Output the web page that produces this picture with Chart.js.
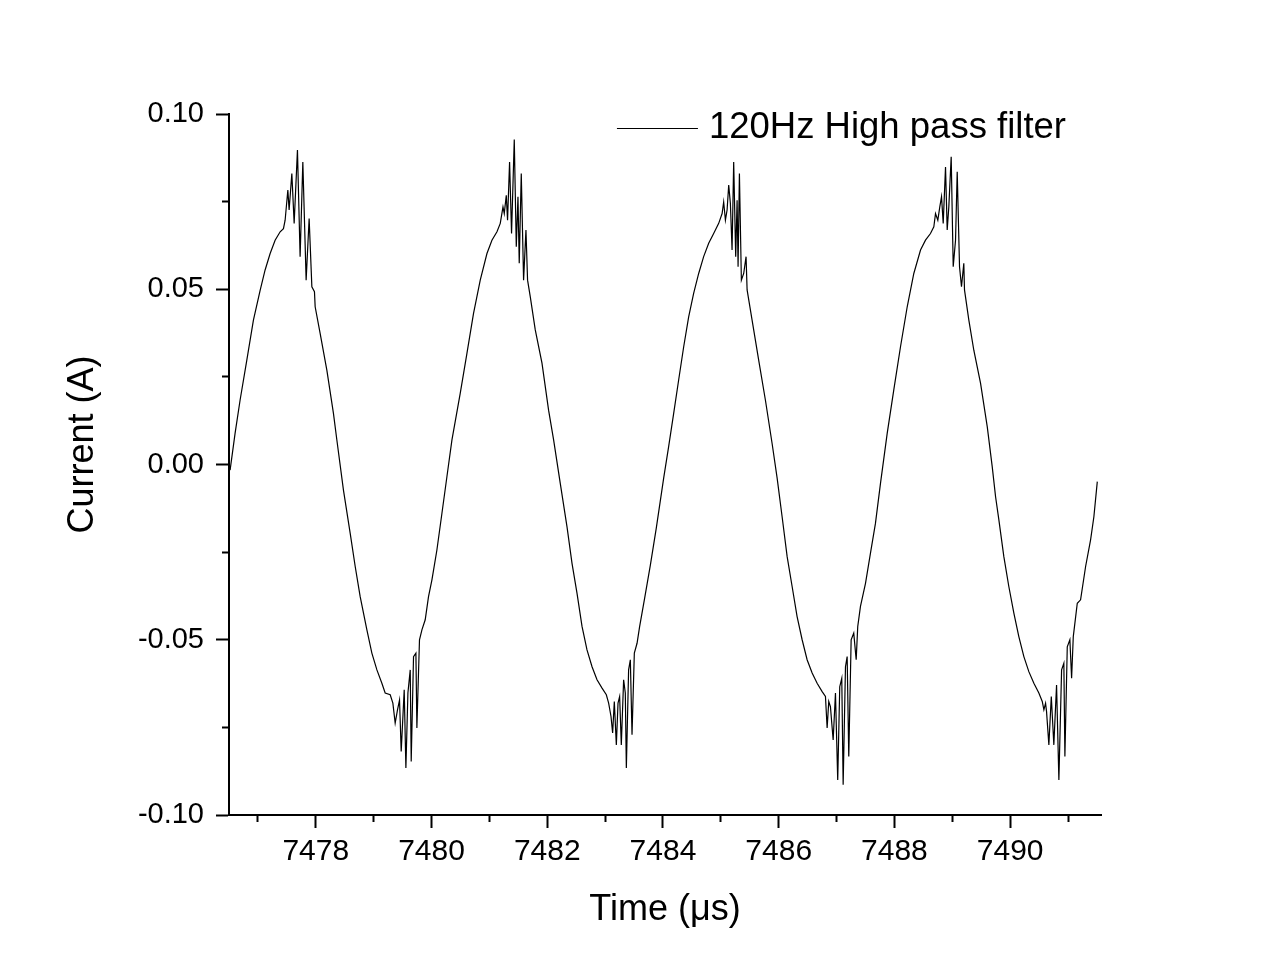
<!DOCTYPE html>
<html>
<head>
<meta charset="utf-8">
<title>120Hz High pass filter</title>
<script src="https://cdn.jsdelivr.net/npm/chart.js@4.4.1/dist/chart.umd.min.js"></script>
<style>
  html, body { margin: 0; padding: 0; background: #fff; }
  #mycanvas { display: block; }
</style>
</head>
<body>
<canvas id="mycanvas" width="1280" height="979"></canvas>
<script>
// time in microseconds
var timeUs = [
  7476.519, 7476.605, 7476.692, 7476.808, 7476.922, 7477.038, 7477.124, 7477.211, 7477.297, 7477.384,
  7477.441, 7477.470, 7477.517, 7477.539, 7477.586, 7477.626, 7477.683, 7477.729, 7477.776, 7477.833,
  7477.885, 7477.932, 7477.977, 7477.989, 7478.075, 7478.191, 7478.305, 7478.364, 7478.478, 7478.594,
  7478.681, 7478.767, 7478.883, 7478.969, 7479.056, 7479.142, 7479.199, 7479.286, 7479.332, 7479.372,
  7479.412, 7479.447, 7479.476, 7479.528, 7479.557, 7479.592, 7479.632, 7479.649, 7479.689, 7479.730,
  7479.747, 7479.792, 7479.834, 7479.891, 7479.948, 7480.007, 7480.093, 7480.180, 7480.266, 7480.353,
  7480.496, 7480.612, 7480.726, 7480.842, 7480.958, 7481.044, 7481.131, 7481.188, 7481.235, 7481.257,
  7481.292, 7481.314, 7481.349, 7481.383, 7481.430, 7481.465, 7481.494, 7481.516, 7481.551, 7481.591,
  7481.632, 7481.660, 7481.707, 7481.793, 7481.909, 7482.023, 7482.110, 7482.225, 7482.341, 7482.428,
  7482.514, 7482.601, 7482.687, 7482.774, 7482.860, 7482.947, 7483.021, 7483.061, 7483.102, 7483.130,
  7483.159, 7483.194, 7483.223, 7483.251, 7483.280, 7483.320, 7483.349, 7483.367, 7483.406, 7483.436,
  7483.465, 7483.505, 7483.552, 7483.597, 7483.678, 7483.782, 7483.885, 7484.012,
  7484.098, 7484.185, 7484.271, 7484.358, 7484.444, 7484.530, 7484.617, 7484.703, 7484.790, 7484.876,
  7484.963, 7485.022, 7485.049, 7485.079, 7485.108, 7485.136, 7485.165, 7485.194, 7485.222, 7485.257,
  7485.281, 7485.298, 7485.321, 7485.355, 7485.395, 7485.436, 7485.454, 7485.540, 7485.654, 7485.770,
  7485.886, 7485.973, 7486.059, 7486.146, 7486.232, 7486.318, 7486.405, 7486.491, 7486.578, 7486.664,
  7486.751, 7486.808, 7486.837, 7486.865, 7486.894, 7486.941, 7486.981, 7487.020, 7487.055, 7487.090,
  7487.114, 7487.154, 7487.183, 7487.211, 7487.252, 7487.297, 7487.339, 7487.366, 7487.413, 7487.500,
  7487.586, 7487.672, 7487.759,
  7487.875, 7487.989, 7488.105, 7488.221, 7488.335, 7488.451, 7488.537, 7488.623, 7488.681, 7488.710,
  7488.750, 7488.784, 7488.814, 7488.843, 7488.883, 7488.912, 7488.940, 7488.981, 7489.016, 7489.056,
  7489.085, 7489.125, 7489.159, 7489.199, 7489.211, 7489.286, 7489.372, 7489.488, 7489.604, 7489.690,
  7489.748, 7489.805, 7489.891, 7489.977, 7490.064, 7490.150, 7490.237, 7490.323, 7490.410, 7490.496,
  7490.555, 7490.583, 7490.612, 7490.629, 7490.669, 7490.711, 7490.755, 7490.802, 7490.842, 7490.889,
  7490.928, 7490.946, 7490.987, 7491.032, 7491.062, 7491.091, 7491.160, 7491.217, 7491.304, 7491.390,
  7491.447, 7491.506
];

// current in amperes
var currentA = [
  -0.0016, 0.0089, 0.0184, 0.0298, 0.0412, 0.0497, 0.0555, 0.0602, 0.0640, 0.0664,
  0.0673, 0.0697, 0.0783, 0.0726, 0.0830, 0.0688, 0.0897, 0.0593, 0.0863, 0.0526,
  0.0702, 0.0507, 0.0493, 0.0450, 0.0374, 0.0269, 0.0146, 0.0070, -0.0073, -0.0196,
  -0.0291, -0.0377, -0.0472, -0.0538, -0.0586, -0.0624, -0.0652, -0.0657, -0.0681, -0.0738,
  -0.0700, -0.0672, -0.0819, -0.0643, -0.0866, -0.0652, -0.0586, -0.0847, -0.0548, -0.0538,
  -0.0752, -0.0500, -0.0472, -0.0443, -0.0377, -0.0329, -0.0244, -0.0139, -0.0035, 0.0070,
  0.0203, 0.0317, 0.0431, 0.0526, 0.0602, 0.0640, 0.0664, 0.0688, 0.0735, 0.0716,
  0.0768, 0.0697, 0.0863, 0.0659, 0.0927, 0.0621, 0.0764, 0.0574, 0.0830, 0.0526,
  0.0669, 0.0526, 0.0478, 0.0384, 0.0289, 0.0155, 0.0070, -0.0054, -0.0177, -0.0282,
  -0.0367, -0.0462, -0.0529, -0.0577, -0.0614, -0.0638, -0.0657, -0.0681, -0.0719, -0.0766,
  -0.0676, -0.0800, -0.0681, -0.0662, -0.0800, -0.0614, -0.0652, -0.0866, -0.0586, -0.0557,
  -0.0771, -0.0538, -0.0510, -0.0462, -0.0386, -0.0287, -0.0181, -0.0039,
  0.0051, 0.0146, 0.0241, 0.0336, 0.0421, 0.0488, 0.0545, 0.0593, 0.0631, 0.0659,
  0.0688, 0.0716, 0.0749, 0.0697, 0.0726, 0.0797, 0.0745, 0.0612, 0.0863, 0.0593,
  0.0754, 0.0564, 0.0830, 0.0526, 0.0545, 0.0593, 0.0498, 0.0412, 0.0298, 0.0184,
  0.0060, -0.0039, -0.0149, -0.0263, -0.0348, -0.0434, -0.0500, -0.0557, -0.0595, -0.0624,
  -0.0648, -0.0662, -0.0752, -0.0676, -0.0691, -0.0786, -0.0652, -0.0900, -0.0634, -0.0610,
  -0.0914, -0.0577, -0.0548, -0.0833, -0.0500, -0.0481, -0.0557, -0.0462, -0.0405, -0.0339,
  -0.0253, -0.0168, -0.0054,
  0.0089, 0.0213, 0.0336, 0.0450, 0.0545, 0.0612, 0.0640, 0.0659, 0.0678, 0.0716,
  0.0697, 0.0735, 0.0764, 0.0688, 0.0849, 0.0669, 0.0735, 0.0878, 0.0564, 0.0640,
  0.0835, 0.0564, 0.0507, 0.0574, 0.0498, 0.0412, 0.0326, 0.0232, 0.0108, -0.0006,
  -0.0092, -0.0158, -0.0263, -0.0348, -0.0424, -0.0491, -0.0548, -0.0591, -0.0624, -0.0652,
  -0.0676, -0.0700, -0.0681, -0.0705, -0.0800, -0.0662, -0.0800, -0.0629, -0.0900, -0.0586,
  -0.0567, -0.0833, -0.0520, -0.0500, -0.0610, -0.0491, -0.0396, -0.0386, -0.0291, -0.0215,
  -0.0149, -0.0049
];

var xTickLabels = [7478, 7480, 7482, 7484, 7486, 7488, 7490];
var yTickLabels = [-0.10, -0.05, 0.00, 0.05, 0.10];
var seriesLabel = "120Hz High pass filter";

var fontFamily = '"Liberation Sans", Arial, sans-serif';

function isXMajor(v) {
  return xTickLabels.indexOf(v) >= 0;
}
function yMajorLabel(v) {
  for (var i in yTickLabels) {
    if (Math.abs(yTickLabels[i] - v) < 1e-9) return yTickLabels[i].toFixed(2);
  }
  return null;
}

var points = [];
for (var i in timeUs) {
  points.push({x: timeUs[i], y: currentA[i]});
}

// legend drawn inside the plot, top right
var insideLegend = {
  id: 'insideLegend',
  afterDraw: function(chart) {
    var ctx = chart.ctx;
    var area = chart.chartArea;
    var ds = chart.data.datasets[0];
    ctx.save();
    ctx.font = '36.5px ' + fontFamily;
    ctx.textBaseline = 'middle';
    var w = ctx.measureText(ds.label).width;
    var tx = area.right - 35 - w;
    var ty = area.top + 14;
    ctx.strokeStyle = ds.borderColor;
    ctx.lineWidth = 1;
    ctx.beginPath();
    ctx.moveTo(tx - 92, ty + 0.5);
    ctx.lineTo(tx - 11, ty + 0.5);
    ctx.stroke();
    ctx.fillStyle = '#000';
    ctx.fillText(ds.label, tx, ty);
    ctx.restore();
  }
};

var ctx = document.getElementById('mycanvas');

var LineGraph = new Chart(ctx, {
  type: 'line',
  data: {
    datasets: [{
      label: seriesLabel,
      data: points,
      borderColor: '#000000',
      borderWidth: 1.2,
      pointRadius: 0,
      fill: false,
      tension: 0
    }]
  },
  options: {
    responsive: false,
    animation: false,
    layout: { padding: { left: 0, right: 179, top: 114, bottom: 0 } },
    plugins: {
      legend: { display: false },
      tooltip: { enabled: false }
    },
    scales: {
      x: {
        type: 'linear',
        min: 7476.5,
        max: 7491.57,
        afterFit: function(scale) { scale.height = 164; },
        border: { display: true, color: '#000', width: 2 },
        grid: {
          drawOnChartArea: false,
          drawTicks: true,
          tickLength: 13,
          tickColor: '#000',
          tickWidth: 2,
          tickBorderDash: function(c) { return (c.tick && !isXMajor(c.tick.value)) ? [6, 100] : []; }
        },
        ticks: {
          stepSize: 1,
          includeBounds: false,
          autoSkip: false,
          maxRotation: 0,
          padding: 6,
          color: '#000',
          font: { family: fontFamily, size: 30 },
          callback: function(value) { return isXMajor(value) ? String(value) : ''; }
        },
        title: {
          display: true,
          text: 'Time (\u03bcs)',
          color: '#000',
          font: { family: fontFamily, size: 36 },
          padding: { top: 0, bottom: 47 }
        }
      },
      y: {
        min: -0.1,
        max: 0.1,
        afterFit: function(scale) { scale.width = 229; },
        border: { display: true, color: '#000', width: 2 },
        grid: {
          drawOnChartArea: false,
          drawTicks: true,
          tickLength: 13,
          tickColor: '#000',
          tickWidth: 2,
          tickBorderDash: function(c) { return (c.tick && yMajorLabel(c.tick.value) === null) ? [6, 6] : []; },
          tickBorderDashOffset: function(c) { return (c.tick && yMajorLabel(c.tick.value) === null) ? 6 : 0; }
        },
        ticks: {
          stepSize: 0.025,
          autoSkip: false,
          padding: 12,
          color: '#000',
          font: { family: fontFamily, size: 29 },
          callback: function(value) { var s = yMajorLabel(value); return s === null ? '' : s; }
        },
        title: {
          display: true,
          text: '\u00a0\u00a0\u00a0\u00a0Current (A)',
          color: '#000',
          font: { family: fontFamily, size: 36 },
          padding: { top: 61, bottom: 0 }
        }
      }
    }
  },
  plugins: [insideLegend]
});
</script>
</body>
</html>
